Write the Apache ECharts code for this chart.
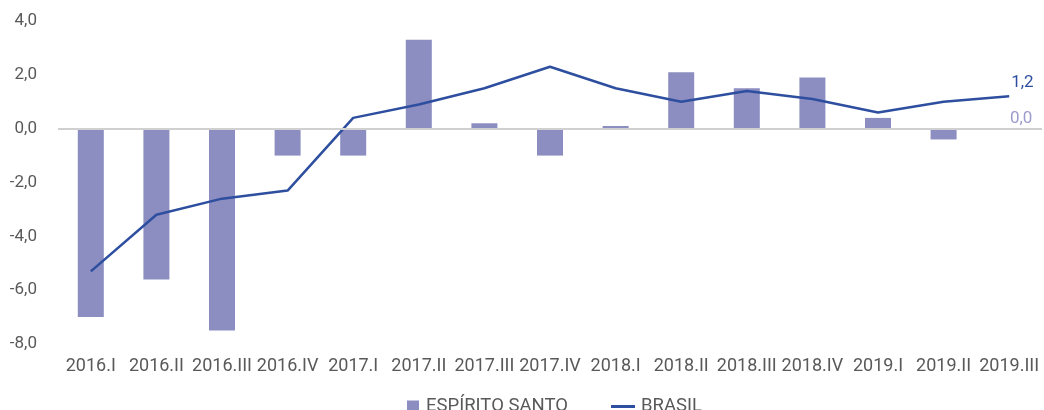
<!DOCTYPE html>
<html>
<head>
<meta charset="utf-8">
<script src="https://cdn.jsdelivr.net/npm/echarts@6/dist/echarts.min.js"></script>
<style>
  html, body { margin: 0; padding: 0; background: #fff; }
  #chart { width: 1044px; height: 410px; }
</style>
</head>
<body>
<div id="chart"></div>
<script>
var categories = ["2016.I", "2016.II", "2016.III", "2016.IV", "2017.I", "2017.II", "2017.III", "2017.IV",
  "2018.I", "2018.II", "2018.III", "2018.IV", "2019.I", "2019.II", "2019.III"];
var espiritoSanto = [-7.0, -5.6, -7.5, -1.0, -1.0, 3.3, 0.2, -1.0, 0.1, 2.1, 1.5, 1.9, 0.4, -0.4, 0.0];
var brasil = [-5.3, -3.2, -2.6, -2.3, 0.4, 0.9, 1.5, 2.3, 1.5, 1.0, 1.4, 1.1, 0.6, 1.0, 1.2];

var last = categories.length - 1;
var fmt = function (v) { return v.toFixed(1).replace(".", ","); };

var myChart = echarts.init(document.getElementById("chart"));

var option = {
  animation: false,
  textStyle: { fontFamily: "Roboto" },
  grid: { left: 58, right: 2, top: 21, bottom: 66 },
  legend: [
    {
      left: 407,
      top: 397,
      padding: 0,
      itemWidth: 12,
      itemHeight: 12,
      itemGap: 0,
      icon: "rect",
      textStyle: { color: "#595959", fontSize: 18.5, padding: [0, 0, 0, 2] },
      data: ["ESPÍRITO SANTO"],
    },
    {
      left: 611,
      top: 397,
      padding: 0,
      itemWidth: 24,
      itemHeight: 12,
      icon: "path://M0,5 L24,5 L24,8 L0,8 Z",
      textStyle: { color: "#595959", fontSize: 18.5, padding: [0, 0, 0, 1] },
      data: ["BRASIL"],
    },
  ],
  xAxis: {
    type: "category",
    data: categories,
    axisLine: { show: false, onZero: false },
    axisTick: { show: false },
    axisLabel: { color: "#595959", fontSize: 18, margin: 13, interval: 0 },
  },
  yAxis: {
    type: "value",
    min: -8,
    max: 4,
    interval: 2,
    splitLine: { show: false },
    axisLabel: { color: "#595959", fontSize: 17, margin: 21, formatter: fmt },
  },
  series: [
    {
      name: "ESPÍRITO SANTO",
      type: "bar",
      data: espiritoSanto,
      barWidth: 26,
      itemStyle: { color: "#8c8dc0" },
      label: {
        show: true,
        position: "top",
        distance: 1,
        offset: [12, 0],
        color: "#9b9bcc",
        fontSize: 17,
        formatter: function (p) { return p.dataIndex === last ? fmt(p.value) : ""; },
      },
      markLine: {
        silent: true,
        symbol: "none",
        label: { show: false },
        lineStyle: { color: "#d0d0d0", width: 2, type: "solid" },
        data: [{ yAxis: 0 }],
      },
    },
    {
      name: "BRASIL",
      type: "line",
      data: brasil,
      symbol: "none",
      lineStyle: { color: "#2e4f9f", width: 2.5 },
      itemStyle: { color: "#2e4f9f" },
      z: 3,
      endLabel: {
        show: true,
        offset: [-6, -14],
        color: "#2e4f9f",
        fontSize: 17,
        formatter: function (p) { return fmt(p.value); },
      },
    },
  ],
};

myChart.setOption(option);
</script>
</body>
</html>
